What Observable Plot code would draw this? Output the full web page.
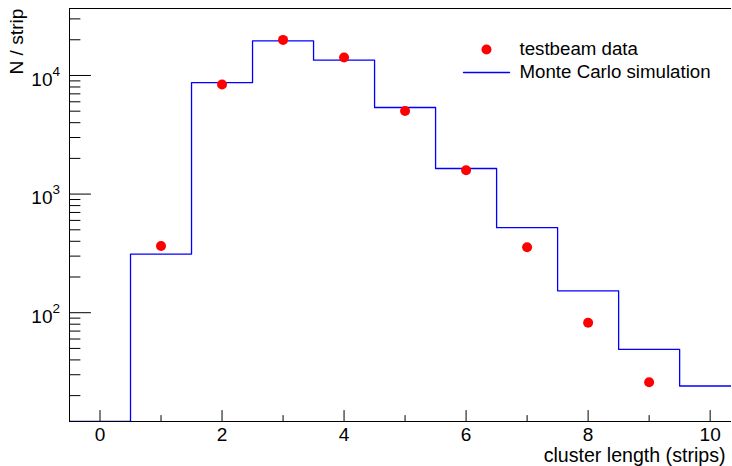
<!DOCTYPE html>
<html>
<head>
<meta charset="utf-8">
<script src="https://cdn.jsdelivr.net/npm/d3@7"></script>
<script src="https://cdn.jsdelivr.net/npm/@observablehq/plot@0.6"></script>
<style>
  html, body { margin: 0; padding: 0; background: #fff; }
  #chart svg { display: block; }
</style>
</head>
<body>
<div id="chart"></div>
<script>
// ---- data ----
const binLow = [-0.5, 0.5, 1.5, 2.5, 3.5, 4.5, 5.5, 6.5, 7.5, 8.5, 9.5, 10.5];
const mcValues = [0, 312, 8700, 19600, 13460, 5370, 1644, 521, 153, 49, 24.1, 24.1];
const dataX = [1, 2, 3, 4, 5, 6, 7, 8, 9];
const dataValues = [365, 8400, 19950, 14190, 5020, 1590, 356, 82.4, 25.9];

const xDomain = [-0.5, 10.35];
const yDomain = [12.1, 36700];

const xMajorTicks = [0, 2, 4, 6, 8, 10];
const xMinorTicks = [1, 3, 5, 7, 9];
const yMajorTicks = [100, 1000, 10000];
const yMajorExp = ["2", "3", "4"];
const yMinorTicks = [20, 30, 40, 50, 60, 70, 80, 90,
  200, 300, 400, 500, 600, 700, 800, 900,
  2000, 3000, 4000, 5000, 6000, 7000, 8000, 9000,
  20000, 30000];

const legendLabels = ["testbeam data", "Monte Carlo simulation"];
const xTitle = "cluster length (strips)";
const yTitle = "N / strip";

const mc = binLow.map((x, i) => ({x, y: Math.max(mcValues[i], yDomain[0])}));
const pts = dataX.map((x, i) => ({x, y: dataValues[i]}));
const yMajor = yMajorTicks.map((v, i) => ({v, e: yMajorExp[i]}));

const tickShape = {draw(ctx, l) { ctx.moveTo(0, 0); ctx.lineTo(0, -l); }};

const chart = Plot.plot({
  width: 732,
  height: 466,
  marginLeft: 69,
  marginRight: 1,
  marginTop: 8,
  marginBottom: 45,
  x: {domain: xDomain, axis: null},
  y: {type: "log", domain: yDomain, axis: null},
  style: {fontFamily: "'Liberation Sans', Arial, Helvetica, sans-serif", fontSize: "19px", background: "#fff", color: "#000"},
  marks: [
    // histogram (Monte Carlo)
    Plot.line(mc, {x: "x", y: "y", curve: "step-after", stroke: "#0000ff", strokeWidth: 1.3, clip: "frame"}),
    // data points
    Plot.dot(pts, {x: "x", y: "y", r: 5, fill: "#ff0000", stroke: "none"}),
    // frame lines
    Plot.ruleX([xDomain[0]], {stroke: "#000", strokeWidth: 1}),
    Plot.ruleY([yDomain[0]], {stroke: "#000", strokeWidth: 1}),
    Plot.ruleY([yDomain[1]], {stroke: "#000", strokeWidth: 1}),
    // y ticks (inward)
    Plot.vector(yMajorTicks, {y: d => d, frameAnchor: "left", rotate: 90, length: 21, anchor: "start", stroke: "#000", strokeWidth: 1, shape: tickShape}),
    Plot.vector(yMinorTicks, {y: d => d, frameAnchor: "left", rotate: 90, length: 10.5, anchor: "start", stroke: "#000", strokeWidth: 1, shape: tickShape}),
    // x ticks (inward)
    Plot.vector(xMajorTicks, {x: d => d, frameAnchor: "bottom", rotate: 0, length: 11, anchor: "start", stroke: "#000", strokeWidth: 1, shape: tickShape}),
    Plot.vector(xMinorTicks, {x: d => d, frameAnchor: "bottom", rotate: 0, length: 6, anchor: "start", stroke: "#000", strokeWidth: 1, shape: tickShape}),
    // x tick labels
    Plot.text(xMajorTicks, {x: d => d, text: d => String(d), frameAnchor: "bottom", dy: 13, lineAnchor: "middle", fontSize: 19, fill: "#000"}),
    // y tick labels: "10" + superscript exponent
    Plot.text(yMajor, {y: "v", text: () => "10", frameAnchor: "left", dx: -17, dy: 4, textAnchor: "end", lineAnchor: "middle", fontSize: 19, fill: "#000"}),
    Plot.text(yMajor, {y: "v", text: "e", frameAnchor: "left", dx: -17, dy: -4, textAnchor: "start", lineAnchor: "middle", fontSize: 13.5, fill: "#000"}),
    // axis titles
    Plot.text([xTitle], {text: d => d, frameAnchor: "bottom-right", dx: -6, dy: 34, textAnchor: "end", lineAnchor: "middle", fontSize: 19.6, fill: "#000"}),
    Plot.text([yTitle], {text: d => d, frameAnchor: "top-left", dx: -53, dy: 0, rotate: -90, textAnchor: "end", lineAnchor: "middle", fontSize: 19.2, fill: "#000"}),
    // legend
    Plot.dot([legendLabels[0]], {frameAnchor: "top-left", dx: 417, dy: 41, r: 5, fill: "#ff0000", stroke: "none"}),
    Plot.vector([legendLabels[1]], {frameAnchor: "top-left", dx: 394, dy: 64, rotate: 90, length: 46, anchor: "start", stroke: "#0000ff", strokeWidth: 1.3, shape: tickShape}),
    Plot.text([legendLabels[0]], {text: d => d, frameAnchor: "top-left", dx: 450, dy: 41, textAnchor: "start", lineAnchor: "middle", fontSize: 18.7, fill: "#000"}),
    Plot.text([legendLabels[1]], {text: d => d, frameAnchor: "top-left", dx: 450, dy: 64, textAnchor: "start", lineAnchor: "middle", fontSize: 18.7, fill: "#000"})
  ]
});
document.getElementById("chart").appendChild(chart);
</script>
</body>
</html>
